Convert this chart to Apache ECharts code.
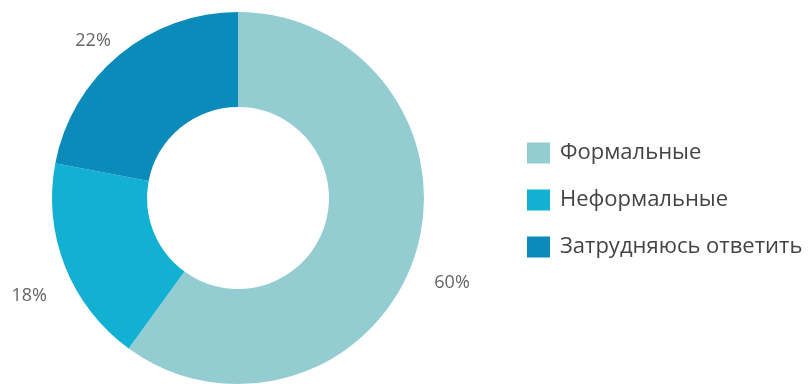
<!DOCTYPE html>
<html>
<head>
<meta charset="utf-8">
<script src="https://cdn.jsdelivr.net/npm/echarts@6/dist/echarts.min.js"></script>
<style>
  html, body { margin: 0; padding: 0; background: #ffffff; }
  #chart { width: 811px; height: 384px; }
</style>
</head>
<body>
<div id="chart"></div>
<script>
// Answer categories and their shares, in percent
const categories = ['Формальные', 'Неформальные', 'Затрудняюсь ответить'];
const shares = [60, 18, 22];
const colors = ['#93cdd2', '#12b0d3', '#0a8bb9'];
// Fine placement of each outside percentage label
const labelOffsets = [[3, 24], [-2, 25], [4, -5]];

const chart = echarts.init(document.getElementById('chart'), null, { renderer: 'canvas' });

const data = categories.map((name, i) => ({
  name,
  value: shares[i],
  itemStyle: { color: colors[i] },
  label: { offset: labelOffsets[i] }
}));

chart.setOption({
  animation: false,
  textStyle: { fontFamily: '"Open Sans", sans-serif' },
  legend: {
    orient: 'vertical',
    left: 522,
    top: 137,
    itemWidth: 23,
    itemHeight: 21,
    itemGap: 25,
    icon: 'rect',
    textStyle: {
      fontSize: 22,
      lineHeight: 22,
      color: '#444444',
      fontFamily: '"Open Sans", sans-serif',
      padding: [0, 0, 0, 5]
    },
    data: categories
  },
  series: [{
    type: 'pie',
    center: [238, 198],
    radius: [91, 186],
    startAngle: 90,
    clockwise: true,
    silent: true,
    label: {
      show: true,
      position: 'outside',
      formatter: '{c}%',
      fontSize: 18,
      color: '#666666',
      fontFamily: '"Open Sans", sans-serif'
    },
    labelLine: { show: false, length: 12, length2: 0 },
    data
  }]
});
</script>
</body>
</html>
